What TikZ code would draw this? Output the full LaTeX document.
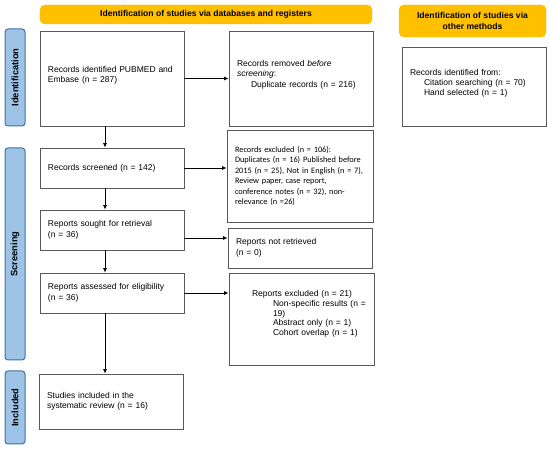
\documentclass[tikz,border=0pt]{standalone}
\usepackage{fontspec}
\setmainfont{Liberation Sans}
\newfontfamily\calibrifont{Carlito}
\usetikzlibrary{arrows.meta}

\definecolor{bandyellow}{HTML}{FFC000}
\definecolor{phaseblue}{HTML}{9DC3E6}
\definecolor{phaseedge}{HTML}{41719C}
\definecolor{boxedge}{HTML}{595959}

\tikzset{
  recbox/.style={draw=boxedge, line width=0.9pt, align=left, inner xsep=8pt, inner ysep=0pt,
    font=\fontsize{8.5}{10.5}\selectfont},
  banner/.style={fill=bandyellow, draw=bandyellow!85!orange, rounded corners=5pt, align=center,
    inner sep=0pt, font=\bfseries\fontsize{8.6}{10.5}\selectfont},
  phase/.style={fill=phaseblue, draw=phaseedge, line width=1pt, rounded corners=3pt,
    inner sep=0pt, rotate=90, minimum height=20pt, font=\bfseries\fontsize{9.3}{10}\selectfont},
  arr/.style={-{Latex[length=4.5pt,width=4pt]}, line width=0.7pt}
}

\begin{document}
\begin{tikzpicture}[x=1pt,y=-1pt]

        \useasboundingbox (0,0) rectangle (550,449);

        % Intestazioni
        \node[banner, minimum width=332pt, minimum height=19pt] (dbhead) at (206,14.5)
            {Identification of studies via databases and registers};
        \node[banner, minimum width=147pt, minimum height=32pt] (otherhead) at (472.5,21)
            {Identification of studies via\\other methods};

        % Fasi
        \node[phase, minimum width=97pt] (idbar) at (15,77.5) {Identification};
        \node[phase, minimum width=212pt] (scbar) at (15,254) {Screening};
        \node[phase, minimum width=73pt] (inbar) at (15,407.5) {Included};

        % Colonna principale
        \node[recbox, text width=128pt, minimum height=95pt] (ident) at (112,78.5)
            {Records identified PUBMED and\\Embase (n = 287)\\[-2.5pt]\mbox{}};
        \node[recbox, text width=128pt, minimum height=40pt] (screened) at (112,168)
            {Records screened (n = 142)};
        \node[recbox, text width=128pt, minimum height=40pt] (sought) at (112,230)
            {Reports sought for retrieval\\(n = 36)};
        \node[recbox, text width=128pt, minimum height=40pt] (assessed) at (112,293)
            {Reports assessed for eligibility\\(n = 36)};
        \node[recbox, text width=128pt, minimum height=55pt] (included) at (111,401.5)
            {Studies included in the\\systematic review (n = 16)};

        % Colonna esclusi
        \node[recbox, text width=128pt, minimum height=95pt] (removed) at (301,78.5)
            {Records removed \textit{before}\\\textit{screening}:\\\hspace*{14pt}Duplicate records (n = 216)\\[-0.5pt]\mbox{}};
        \node[recbox, text width=130pt, minimum height=92pt, font=\calibrifont\fontsize{8.3}{10.4}\selectfont] (excl) at (300,176)
            {Records excluded (n = 106):\\Duplicates (n = 16) Published before\\2015 (n = 25), Not in English (n = 7),\\Review paper, case report,\\conference notes (n = 32), non-\\relevance (n =26)};
        \node[recbox, text width=128pt, minimum height=40pt] (notret) at (300,248)
            {Reports not retrieved\\(n = 0)};
        \node[recbox, inner xsep=4pt, text width=137pt, minimum height=92pt, font=\fontsize{8.5}{9.8}\selectfont] (repexcl) at (301.5,319)
            {\hspace*{19pt}Reports excluded (n = 21)\\\hspace*{40pt}Non-specific results (n =\\\hspace*{40pt}19)\\\hspace*{40pt}Abstract only (n = 1)\\\hspace*{40pt}Cohort overlap (n = 1)\\[2pt]\mbox{}};

        % Altri metodi
        \node[recbox, text width=128pt, minimum height=79pt, font=\fontsize{8.5}{10}\selectfont] (other) at (474,86.5)
            {Records identified from:\\\hspace*{14pt}Citation searching (n = 70)\\\hspace*{14pt}Hand selected (n = 1)\\[-2pt]\mbox{}};

        % Frecce
        \coordinate (axis) at (105,0);
        \draw[arr] (ident.south -| axis) -- (screened.north -| axis);
        \draw[arr] (screened.south -| axis) -- (sought.north -| axis);
        \draw[arr] (sought.south -| axis) -- (assessed.north -| axis);
        \draw[arr] (assessed.south -| axis) -- (included.north -| axis);

        \draw[arr] (ident.east) -- (ident.east -| removed.west);
        \draw[arr] (screened.east) -- (screened.east -| excl.west);
        \draw[arr] ([yshift=-8pt]sought.east) -- ([yshift=-8pt]sought.east -| notret.west);
        \draw[arr] (assessed.east) -- (assessed.east -| repexcl.west);

\end{tikzpicture}
\end{document}
